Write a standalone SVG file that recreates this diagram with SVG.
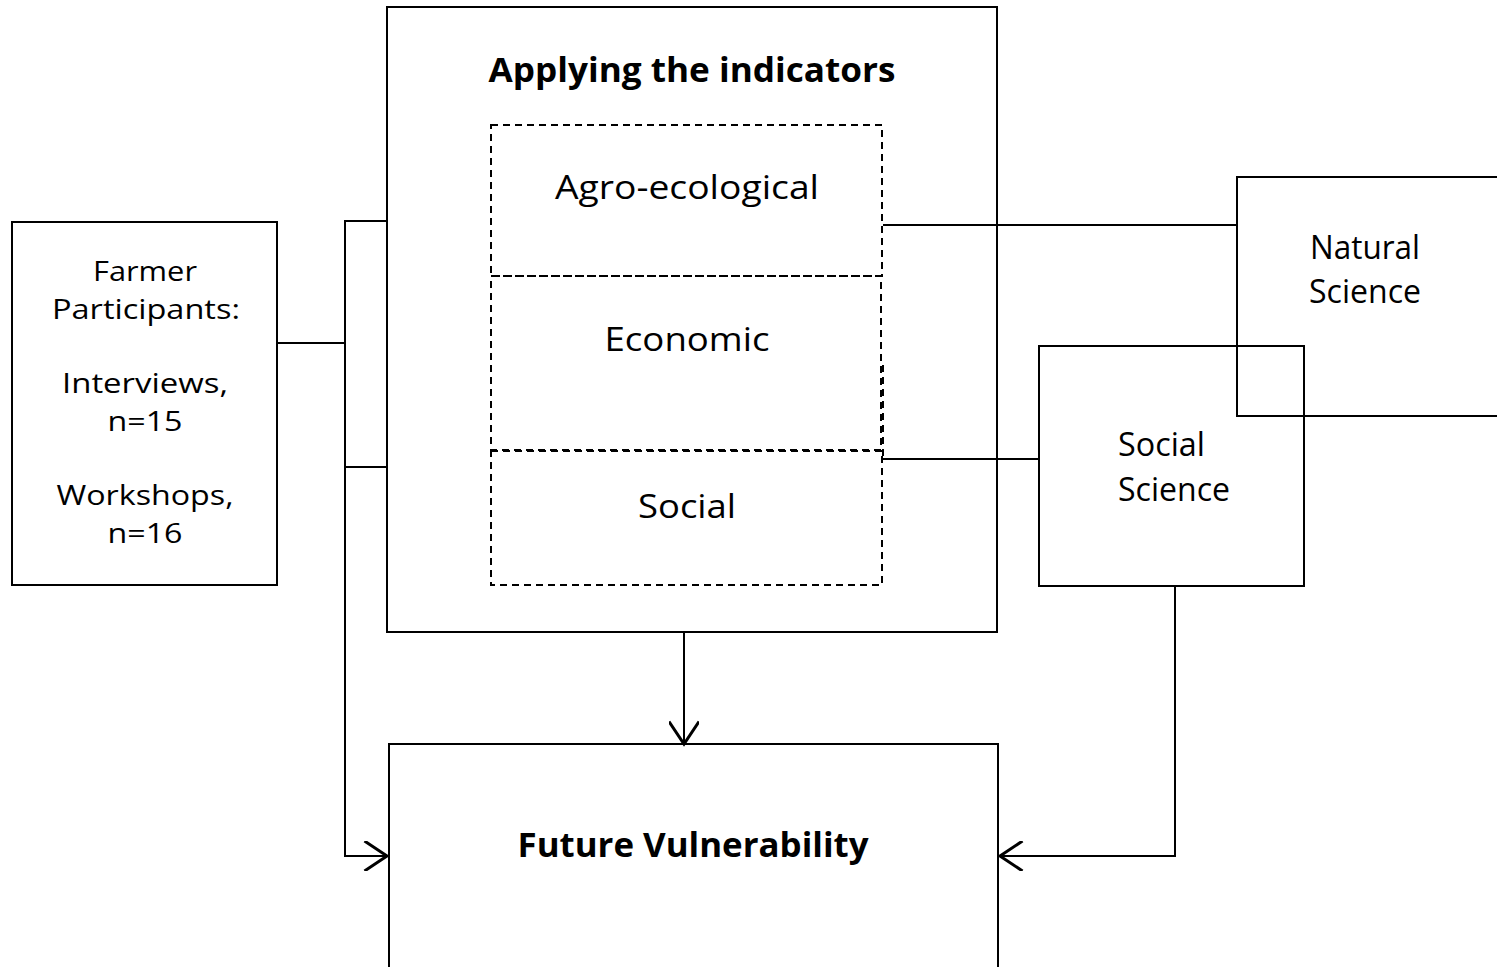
<svg xmlns="http://www.w3.org/2000/svg" width="1497" height="967" viewBox="0 0 1497 967">
<style>
.box{fill:none;stroke:#000;stroke-width:2}
.dash{fill:none;stroke:#000;stroke-width:2;stroke-dasharray:7,5}
.ln{fill:none;stroke:#000;stroke-width:2}
.t{font-family:"Open Sans","Noto Sans","Liberation Sans",sans-serif;font-size:32px;fill:#000}
.f{font-family:"Open Sans","Noto Sans","Liberation Sans",sans-serif;font-size:27px;fill:#000}
.b{font-family:"Open Sans","Noto Sans","Liberation Sans",sans-serif;font-size:34px;font-weight:bold;fill:#000}
.m{text-anchor:middle}
</style>
<defs>
<marker id="arr" markerUnits="userSpaceOnUse" markerWidth="30" markerHeight="30" refX="16" refY="10" orient="auto" viewBox="0 0 20 20">
<path d="M1,0 L16,10 L1,20" fill="none" stroke="#000" stroke-width="2"/>
</marker>
</defs>
<rect width="1497" height="967" fill="#fff"/>
<g id="connectors">
<polyline class="ln" points="277,343 345,343"/>
<polyline class="ln" points="387,221 345,221 345,856 387,856" marker-end="url(#arr)"/>
<polyline class="ln" points="345,467 387,467"/>
<polyline class="ln" points="684,632 684,744" marker-end="url(#arr)"/>
<polyline class="ln" points="883,225 1237,225"/>
<polyline class="ln" points="883,459 1039,459"/>
<polyline class="ln" points="1175,586 1175,856 1000,856" marker-end="url(#arr)"/>
</g>
<g id="farmer">
<rect class="box" x="12" y="222" width="265" height="363"/>
<text class="f m" x="145" y="281" textLength="104" lengthAdjust="spacingAndGlyphs">Farmer</text>
<text class="f m" x="146" y="319" textLength="188" lengthAdjust="spacingAndGlyphs">Participants:</text>
<text class="f m" x="145" y="393" textLength="166" lengthAdjust="spacingAndGlyphs">Interviews,</text>
<text class="f m" x="145" y="431" textLength="75" lengthAdjust="spacingAndGlyphs">n=15</text>
<text class="f m" x="145" y="505" textLength="177" lengthAdjust="spacingAndGlyphs">Workshops,</text>
<text class="f m" x="145" y="543" textLength="75" lengthAdjust="spacingAndGlyphs">n=16</text>
</g>
<g id="applying">
<rect class="box" x="387" y="7" width="610" height="625"/>
<text class="b m" x="692" y="82" textLength="407" lengthAdjust="spacingAndGlyphs">Applying the indicators</text>
</g>
<g id="agro">
<rect class="dash" x="491" y="125" width="391" height="151"/>
<text class="t m" x="687" y="199" textLength="264" lengthAdjust="spacingAndGlyphs">Agro-ecological</text>
</g>
<g id="economic">
<rect class="dash" x="491" y="276" width="390" height="174"/>
<line class="dash" x1="883" y1="365" x2="883" y2="459"/>
<text class="t m" x="687" y="351" textLength="165" lengthAdjust="spacingAndGlyphs">Economic</text>
</g>
<g id="social">
<rect class="dash" x="491" y="451" width="391" height="134"/>
<text class="t m" x="687" y="518" textLength="98" lengthAdjust="spacingAndGlyphs">Social</text>
</g>
<g id="natural-science">
<rect class="box" x="1237" y="177" width="280" height="239"/>
<text class="t m" x="1365" y="259" textLength="110" lengthAdjust="spacingAndGlyphs">Natural</text>
<text class="t m" x="1365" y="303" textLength="112" lengthAdjust="spacingAndGlyphs">Science</text>
</g>
<g id="social-science">
<rect class="box" x="1039" y="346" width="265" height="240"/>
<text class="t" x="1118" y="456" textLength="87" lengthAdjust="spacingAndGlyphs">Social</text>
<text class="t" x="1118" y="501" textLength="112" lengthAdjust="spacingAndGlyphs">Science</text>
</g>
<g id="future">
<rect class="box" x="389" y="744" width="609" height="240"/>
<text class="b m" x="693" y="857" textLength="351" lengthAdjust="spacingAndGlyphs">Future Vulnerability</text>
</g>
</svg>
